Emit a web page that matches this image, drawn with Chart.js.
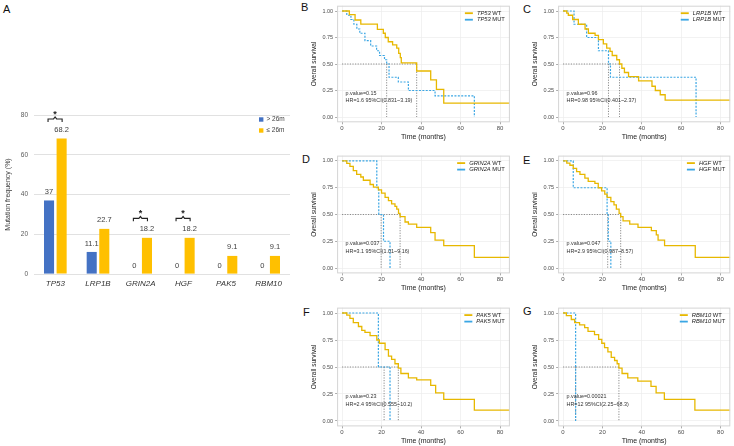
<!DOCTYPE html>
<html>
<head>
<meta charset="utf-8">
<script src="https://cdn.jsdelivr.net/npm/chart.js@4.4.1/dist/chart.umd.min.js"></script>
<style>
  html, body { margin: 0; padding: 0; background: #fff; }
  body { width: 734px; height: 446px; position: relative; overflow: hidden; font-family: "Liberation Sans", Arial, sans-serif; }
  canvas { position: absolute; }
  .tag { position: absolute; font-size: 11px; line-height: 1; color: #111; }
</style>
</head>
<body>
<div class="tag" style="left:3px;top:3.5px">A</div>
<div class="tag" style="left:301px;top:2px">B</div>
<div class="tag" style="left:523px;top:3.5px">C</div>
<div class="tag" style="left:302px;top:153.5px">D</div>
<div class="tag" style="left:523px;top:154.5px">E</div>
<div class="tag" style="left:303px;top:306.5px">F</div>
<div class="tag" style="left:523px;top:305.5px">G</div>

<canvas id="chartA"></canvas>
<canvas id="chartB"></canvas>
<canvas id="chartC"></canvas>
<canvas id="chartD"></canvas>
<canvas id="chartE"></canvas>
<canvas id="chartF"></canvas>
<canvas id="chartG"></canvas>

<script>
// panel A: mutation frequency by survival group
const genes = ['TP53', 'LRP1B', 'GRIN2A', 'HGF', 'PAK5', 'RBM10'];
const over26m = [37, 11.1, 0, 0, 0, 0];
const upTo26m = [68.2, 22.7, 18.2, 18.2, 9.1, 9.1];
const starred = ['TP53', 'GRIN2A', 'HGF'];
const freqTicks = [0, 20, 40, 60, 80];

// panels B-G: Kaplan-Meier steps, [months, survival]
const tp53Wt = [[0,1],[3.7,0.965],[6.6,0.915],[9.5,0.877],[17.9,0.827],[20.9,0.79],[21.9,0.75],[23.4,0.71],[25.6,0.68],[27.7,0.65],[28.7,0.6],[29.5,0.56],[30,0.51],[37.8,0.434],[44.9,0.35],[47.8,0.26],[51.5,0.13],[85,0.13]];
const tp53Mut = [[0,1],[2.4,0.96],[4.5,0.92],[6,0.875],[7.5,0.83],[9,0.79],[11.6,0.72],[14.5,0.67],[17.5,0.625],[19,0.58],[21.5,0.54],[22.6,0.5],[23.8,0.375],[28.5,0.33],[33.6,0.25],[47.1,0.2],[67,0]];
const tp53Median = [22.6, 37.8];
const tp53Stats = ['p.value=0.15', 'HR=1.6 95%CI(0.831~3.19)'];

const lrp1bWt = [[0,1],[1.9,0.98],[2.7,0.96],[4.9,0.92],[7.8,0.875],[11.2,0.83],[12.9,0.79],[16.3,0.77],[18,0.73],[20.5,0.69],[22.2,0.65],[23.9,0.62],[25,0.58],[27.3,0.54],[28.7,0.5],[29.9,0.46],[31.2,0.42],[33.3,0.38],[38.4,0.34],[45.2,0.29],[46.9,0.25],[49.4,0.21],[51.9,0.16],[85,0.16]];
const lrp1bMut = [[0,1],[5.6,0.875],[12,0.75],[18,0.625],[23.1,0.5],[24.1,0.375],[67.6,0]];
const lrp1bMedian = [23.1, 28.7];
const lrp1bStats = ['p.value=0.96', 'HR=0.98 95%CI(0.401~2.37)'];

const grin2aWt = [[0,1],[2.4,0.978],[4,0.95],[5.7,0.91],[7.4,0.875],[9.5,0.85],[10.8,0.82],[14.2,0.78],[15.9,0.755],[18.4,0.73],[20,0.7],[21.8,0.66],[23.5,0.63],[25.1,0.6],[26.8,0.575],[27.7,0.55],[28.6,0.51],[29.4,0.48],[31.9,0.43],[33.6,0.41],[37.8,0.38],[44.9,0.33],[47.1,0.26],[51.5,0.21],[67,0.1],[85,0.1]];
const grin2aMut = [[0,1],[17.6,0.75],[18.6,0.5],[21,0.25],[24.3,0]];
const grin2aMedian = [19.8, 29.4];
const grin2aStats = ['p.value=0.037', 'HR=3.1 95%CI(1.01~9.16)'];

const hgfWt = [[0,1],[1.9,0.98],[3.5,0.96],[5.2,0.93],[6.9,0.9],[8.6,0.875],[11.1,0.84],[12.8,0.81],[16.2,0.79],[17.9,0.75],[19.6,0.72],[21.2,0.69],[22.4,0.66],[24.3,0.62],[25.9,0.59],[27.1,0.55],[28.5,0.51],[29.3,0.48],[30.5,0.44],[33.9,0.41],[38.1,0.38],[44.9,0.35],[47.4,0.31],[48.3,0.26],[51.6,0.21],[67.2,0.1],[85,0.1]];
const hgfMut = [[0,1],[5.2,0.75],[22.4,0.5],[23,0.25],[24.3,0]];
const hgfMedian = [22.7, 29.3];
const hgfStats = ['p.value=0.047', 'HR=2.9 95%CI(0.987~8.57)'];

const pak5Wt = [[0,1],[2.4,0.98],[4,0.95],[5.7,0.91],[8.3,0.875],[10,0.84],[11.6,0.82],[14.2,0.79],[17.6,0.75],[18.9,0.72],[21.8,0.66],[23.5,0.6],[25.1,0.57],[26.8,0.53],[28.5,0.49],[29.8,0.44],[33.6,0.4],[37.8,0.38],[44.9,0.33],[47.4,0.26],[51.5,0.2],[67,0.1],[85,0.1]];
const pak5Mut = [[0,1],[18.4,0.5],[24.3,0]];
const pak5Median = [21.3, 28.5];
const pak5Stats = ['p.value=0.23', 'HR=2.4 95%CI(0.555~10.2)'];

const rbm10Wt = [[0,1],[1.7,0.975],[4.2,0.94],[5.9,0.91],[8.4,0.89],[11,0.865],[12.7,0.83],[16,0.8],[18.1,0.755],[19.7,0.72],[21.1,0.68],[22.8,0.64],[24.5,0.59],[26.2,0.56],[27.5,0.53],[28.4,0.49],[30,0.44],[32.9,0.4],[38,0.37],[44.7,0.32],[47.3,0.26],[51.5,0.2],[67,0.1],[85,0.1]];
const rbm10Mut = [[0,1],[6.4,0]];
const rbm10Median = [6.4, 28.4];
const rbm10Stats = ['p.value=0.00021', 'HR=12 95%CI(2.25~68.3)'];

const timeTicks = [0, 20, 40, 60, 80];
const survTicks = [0, 0.25, 0.5, 0.75, 1];

const FONT = '"Liberation Sans", Arial, sans-serif';
const BLUE = '#4472C4', GOLD = '#FFC000';
const WT_COL = '#E7B800', MUT_COL = '#3AA6E4';

function place(id, box) {
    const c = document.getElementById(id);
    c.width = box[2];
    c.height = box[3];
    c.style.left = box[0] + 'px';
    c.style.top = box[1] + 'px';
    c.style.width = box[2] + 'px';
    c.style.height = box[3] + 'px';
    return c;
}

// ---------- panel A ----------
const barLabels = {
    id: 'barLabels',
    afterDatasetsDraw(chart) {
        const ctx = chart.ctx;
        ctx.save();
        ctx.font = '7.5px ' + FONT;
        ctx.fillStyle = '#404040';
        ctx.textAlign = 'center';
        ctx.textBaseline = 'middle';
        chart.data.datasets.forEach((ds, i) => {
            chart.getDatasetMeta(i).data.forEach((bar, j) => {
                ctx.fillText(String(ds.data[j]), bar.x, bar.y - 8.5);
            });
        });
        ctx.restore();
    }
};

const sigBrackets = {
    id: 'sigBrackets',
    afterDatasetsDraw(chart) {
        const ctx = chart.ctx;
        const m0 = chart.getDatasetMeta(0).data, m1 = chart.getDatasetMeta(1).data;
        ctx.save();
        ctx.strokeStyle = '#222';
        ctx.lineWidth = 1.1;
        ctx.fillStyle = '#222';
        ctx.textAlign = 'center';
        ctx.textBaseline = 'middle';
        ctx.font = 'bold 9px ' + FONT;
        starred.forEach(g => {
            const j = genes.indexOf(g);
            const x1 = m0[j].x - 1, x2 = m1[j].x + 0.5;
            const y = Math.min(m0[j].y, m1[j].y) - 19.5;
            const xm = (x1 + x2) / 2;
            ctx.beginPath();
            ctx.moveTo(x1, y + 3);
            ctx.lineTo(x1, y);
            ctx.lineTo(xm - 1.5, y);
            ctx.lineTo(xm, y - 2);
            ctx.lineTo(xm + 1.5, y);
            ctx.lineTo(x2, y);
            ctx.lineTo(x2, y + 3);
            ctx.stroke();
            ctx.fillText('*', xm, y - 4.5);
        });
        ctx.restore();
    }
};

const legendA = {
    id: 'legendA',
    afterDraw(chart) {
        const ctx = chart.ctx, a = chart.chartArea;
        ctx.save();
        ctx.font = '6.5px ' + FONT;
        ctx.textBaseline = 'middle';
        ctx.textAlign = 'left';
        chart.data.datasets.forEach((ds, i) => {
            const yy = a.top + 4.5 + i * 11;
            ctx.fillStyle = ds.backgroundColor;
            ctx.fillRect(a.right - 31, yy - 2.2, 4.4, 4.4);
            ctx.fillStyle = '#404040';
            ctx.fillText(ds.label, a.right - 23.5, yy);
        });
        ctx.restore();
    }
};

new Chart(place('chartA', [0, 0, 300, 300]), {
    type: 'bar',
    data: {
        labels: genes,
        datasets: [
            { label: '> 26m', data: over26m, backgroundColor: BLUE, categoryPercentage: 0.59, barPercentage: 0.8 },
            { label: '\u2264 26m', data: upTo26m, backgroundColor: GOLD, categoryPercentage: 0.59, barPercentage: 0.8 }
        ]
    },
    options: {
        responsive: false,
        animation: false,
        events: [],
        layout: { padding: { left: 0, top: 115, right: 10, bottom: 0 } },
        plugins: { legend: { display: false }, tooltip: { enabled: false } },
        scales: {
            x: {
                grid: { display: false },
                border: { display: false },
                afterFit: s => { s.height = 26; },
                ticks: { font: { family: FONT, size: 8, style: 'italic' }, color: '#333', padding: -3, maxRotation: 0 }
            },
            y: {
                min: 0,
                max: 80,
                afterBuildTicks: s => { s.ticks = freqTicks.map(v => ({ value: v })); },
                afterFit: s => { s.width = 34; },
                grid: { color: '#d9d9d9', lineWidth: 0.8, drawTicks: false },
                border: { display: false },
                ticks: { font: { family: FONT, size: 6.5 }, color: '#595959', padding: 6 },
                title: { display: true, text: 'Mutation frequency (%)', font: { family: FONT, size: 7 }, color: '#404040', padding: { top: 4.3, bottom: 0 } }
            }
        }
    },
    plugins: [barLabels, sigBrackets, legendA]
});

// ---------- panels B-G ----------
function kmDecor(gene, stats) {
    return {
        id: 'kmDecor',
        afterDraw(chart) {
            const ctx = chart.ctx, a = chart.chartArea;
            const x = chart.scales.x, y = chart.scales.y;
            ctx.save();
            ctx.strokeStyle = '#d4d4d4';
            ctx.lineWidth = 1;
            ctx.strokeRect(a.left + 0.5, a.top + 0.5, a.right - a.left - 1, a.bottom - a.top - 1);

            const italic = 'italic 5.8px ' + FONT, plain = '5.8px ' + FONT;
            const rows = [[' WT', WT_COL], [' MUT', MUT_COL]];
            ctx.font = italic;
            const gw = ctx.measureText(gene).width;
            ctx.font = plain;
            const sw = ctx.measureText(' MUT').width;
            const tx = a.right - 5 - gw - sw;
            ctx.textBaseline = 'middle';
            ctx.textAlign = 'left';
            rows.forEach((r, i) => {
                const yy = a.top + 7.5 + i * 6.5;
                ctx.strokeStyle = r[1];
                ctx.lineWidth = 1.8;
                ctx.beginPath();
                ctx.moveTo(tx - 12, yy);
                ctx.lineTo(tx - 4, yy);
                ctx.stroke();
                ctx.fillStyle = '#222';
                ctx.font = italic;
                ctx.fillText(gene, tx, yy);
                ctx.font = plain;
                ctx.fillText(r[0], tx + gw, yy);
            });

            ctx.font = '5.4px ' + FONT;
            ctx.fillStyle = '#333';
            ctx.fillText(stats[0], x.getPixelForValue(1.8), y.getPixelForValue(0.225));
            ctx.fillText(stats[1], x.getPixelForValue(1.8), y.getPixelForValue(0.155));
            ctx.restore();
        }
    };
}

function kmChart(id, box, area, gene, wt, mut, medians, stats) {
    const yW = 37, xH = 19;
    const pad = {
        left: area[0] - box[0] - yW,
        top: area[1] - box[1],
        right: box[0] + box[2] - area[2],
        bottom: box[1] + box[3] - area[3] - xH
    };
    const pts = arr => arr.map(p => ({ x: p[0], y: p[1] }));
    const guide = data => ({ data, borderColor: '#6f6f6f', borderWidth: 0.8, borderDash: [1.2, 1.4], pointRadius: 0, order: 2 });
    const mMax = Math.max(...medians);
    const datasets = [
        guide([{ x: 0, y: 0.5 }, { x: mMax, y: 0.5 }]),
        ...medians.map(m => guide([{ x: m, y: 0.5 }, { x: m, y: 0 }])),
        { data: pts(mut), borderColor: MUT_COL, borderWidth: 1.2, borderDash: [2, 1.4], stepped: true, pointRadius: 0, order: 1 },
        { data: pts(wt), borderColor: WT_COL, borderWidth: 1.3, stepped: true, pointRadius: 0, order: 0 }
    ];
    new Chart(place(id, box), {
        type: 'line',
        data: { datasets },
        options: {
            responsive: false,
            animation: false,
            events: [],
            layout: { padding: pad },
            plugins: { legend: { display: false }, tooltip: { enabled: false } },
            scales: {
                x: {
                    type: 'linear',
                    min: -2.5,
                    max: 85,
                    afterBuildTicks: s => { s.ticks = timeTicks.map(v => ({ value: v })); },
                    afterFit: s => { s.height = xH; },
                    grid: { color: '#ededed', lineWidth: 0.7, tickLength: 2, tickColor: '#888' },
                    border: { display: false },
                    ticks: { font: { family: FONT, size: 6 }, color: '#4d4d4d', padding: 0, maxRotation: 0 },
                    title: { display: true, text: 'Time (months)', font: { family: FONT, size: 7 }, color: '#222', padding: 0 }
                },
                y: {
                    min: -0.05,
                    max: 1.05,
                    afterBuildTicks: s => { s.ticks = survTicks.map(v => ({ value: v })); },
                    afterFit: s => { s.width = yW; },
                    grid: { color: '#ededed', lineWidth: 0.7, tickLength: 2, tickColor: '#888' },
                    border: { display: false },
                    ticks: { font: { family: FONT, size: 5.5 }, color: '#4d4d4d', padding: 2, callback: v => v.toFixed(2) },
                    title: { display: true, text: 'Overall survival', font: { family: FONT, size: 6.5 }, color: '#222', padding: { top: 10.5, bottom: 0 } }
                }
            }
        },
        plugins: [kmDecor(gene, stats)]
    });
}

kmChart('chartB', [300, 0, 214, 148], [337.1, 5.7, 509.9, 122.3], 'TP53', tp53Wt, tp53Mut, tp53Median, tp53Stats);
kmChart('chartC', [521, 0, 213, 148], [558.1, 5.7, 730.3, 122.3], 'LRP1B', lrp1bWt, lrp1bMut, lrp1bMedian, lrp1bStats);
kmChart('chartD', [300, 148, 214, 152], [337.1, 155.6, 509.9, 273.4], 'GRIN2A', grin2aWt, grin2aMut, grin2aMedian, grin2aStats);
kmChart('chartE', [521, 148, 213, 152], [558.1, 155.6, 730.3, 273.4], 'HGF', hgfWt, hgfMut, hgfMedian, hgfStats);
kmChart('chartF', [300, 300, 214, 146], [337.1, 307.6, 509.9, 426.4], 'PAK5', pak5Wt, pak5Mut, pak5Median, pak5Stats);
kmChart('chartG', [521, 300, 213, 146], [558.1, 307.6, 730.3, 426.4], 'RBM10', rbm10Wt, rbm10Mut, rbm10Median, rbm10Stats);
</script>
</body>
</html>
